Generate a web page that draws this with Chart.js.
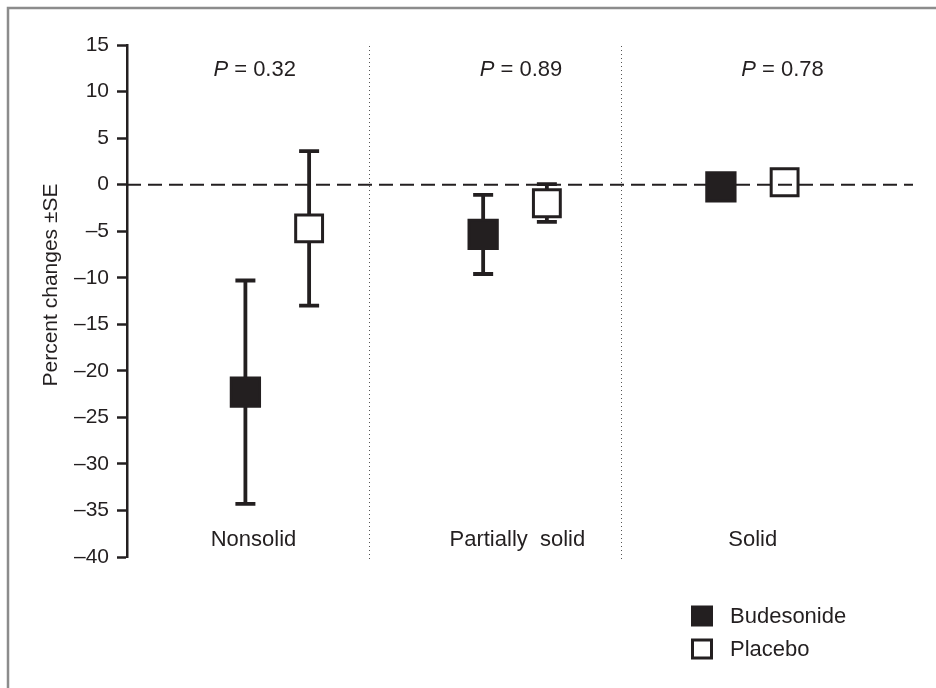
<!DOCTYPE html>
<html>
<head>
<meta charset="utf-8">
<script src="https://cdn.jsdelivr.net/npm/chart.js@4"></script>
<style>
  body { margin: 0; background: #fff; }
  #wrap { width: 936px; height: 688px; }
</style>
</head>
<body>
<div id="wrap"><canvas id="chart" width="936" height="688"></canvas></div>
<script>
// data
const categories = ["Nonsolid", "Partially  solid", "Solid"];
const pValues = ["0.32", "0.89", "0.78"];
const budesonide = [-22.3, -5.35, -0.25];
const budesonideLow = [-34.3, -9.6, -1.0];
const budesonideHigh = [-10.3, -1.1, 0.5];
const placebo = [-4.7, -2.0, 0.25];
const placeboLow = [-13.0, -4.0, -0.6];
const placeboHigh = [3.6, 0.05, 1.0];
const yTicks = [15, 10, 5, 0, -5, -10, -15, -20, -25, -30, -35, -40];

const ink = "#231f20";
const fontFamily = "'Liberation Sans', Arial, Helvetica, sans-serif";
const groupOffset = 0.134;
const dividerX = [0.387, 1.446];
// text placement (x in category units) as laid out in the original figure
const catLabelX = [-0.1, 1.01, 2.0];
const pLabelX = [-0.095, 1.025, 2.125];

function points(values, shift) {
  return values.map((v, i) => ({ x: i + shift, y: v }));
}

const errorBars = [
  { shift: -groupOffset, low: budesonideLow, high: budesonideHigh },
  { shift: groupOffset, low: placeboLow, high: placeboHigh }
];

// frame, dashed zero line, dividers, error bars, texts
const decorPlugin = {
  id: "decor",
  beforeDraw(chart) {
    const ctx = chart.ctx;
    ctx.save();
    ctx.strokeStyle = "#8c8c8c";
    ctx.lineWidth = 2.5;
    ctx.beginPath();
    ctx.moveTo(8, 688);
    ctx.lineTo(8, 8);
    ctx.lineTo(936, 8);
    ctx.stroke();
    ctx.restore();
  },
  beforeDatasetsDraw(chart) {
    const ctx = chart.ctx;
    const xs = chart.scales.x;
    const ys = chart.scales.y;
    const area = chart.chartArea;
    ctx.save();
    // dotted dividers
    ctx.strokeStyle = "#555";
    ctx.lineWidth = 1;
    ctx.setLineDash([1, 3]);
    dividerX.forEach(d => {
      const px = Math.round(xs.getPixelForValue(d)) + 0.5;
      ctx.beginPath();
      ctx.moveTo(px, area.top + 1);
      ctx.lineTo(px, area.bottom + 2);
      ctx.stroke();
    });
    ctx.setLineDash([]);
    // error bars
    ctx.strokeStyle = ink;
    ctx.lineWidth = 3.8;
    errorBars.forEach(eb => {
      eb.low.forEach((lo, i) => {
        const px = xs.getPixelForValue(i + eb.shift);
        const pLo = ys.getPixelForValue(lo);
        const pHi = ys.getPixelForValue(eb.high[i]);
        ctx.beginPath();
        ctx.moveTo(px, pLo);
        ctx.lineTo(px, pHi);
        ctx.moveTo(px - 10, pLo);
        ctx.lineTo(px + 10, pLo);
        ctx.moveTo(px - 10, pHi);
        ctx.lineTo(px + 10, pHi);
        ctx.stroke();
      });
    });
    ctx.restore();
  },
  afterDatasetDraw(chart, args) {
    if (args.index !== 1) return;
    // zero line sits above the open squares but under the filled ones
    const ctx = chart.ctx;
    const ys = chart.scales.y;
    const area = chart.chartArea;
    const py = ys.getPixelForValue(0);
    ctx.save();
    ctx.strokeStyle = ink;
    ctx.lineWidth = 2;
    ctx.setLineDash([14, 7]);
    ctx.beginPath();
    ctx.moveTo(area.left, py);
    ctx.lineTo(area.right, py);
    ctx.stroke();
    ctx.restore();
  },
  afterDraw(chart) {
    const ctx = chart.ctx;
    const xs = chart.scales.x;
    const ys = chart.scales.y;
    ctx.save();
    ctx.fillStyle = ink;
    ctx.font = "22px " + fontFamily;
    ctx.textBaseline = "middle";

    // category names
    ctx.textAlign = "center";
    categories.forEach((c, i) => {
      ctx.fillText(c, xs.getPixelForValue(catLabelX[i]), ys.getPixelForValue(-38.2));
    });

    // P values
    pValues.forEach((p, i) => {
      const rest = " = " + p;
      ctx.font = "italic 22px " + fontFamily;
      const wP = ctx.measureText("P").width;
      ctx.font = "22px " + fontFamily;
      const wR = ctx.measureText(rest).width;
      const x0 = xs.getPixelForValue(pLabelX[i]) - (wP + wR) / 2;
      const y = ys.getPixelForValue(12.3);
      ctx.textAlign = "left";
      ctx.font = "italic 22px " + fontFamily;
      ctx.fillText("P", x0, y);
      ctx.font = "22px " + fontFamily;
      ctx.fillText(rest, x0 + wP, y);
    });

    // y title
    ctx.save();
    ctx.font = "21px " + fontFamily;
    ctx.translate(51, 285);
    ctx.rotate(-Math.PI / 2);
    ctx.textAlign = "center";
    ctx.fillText("Percent changes \u00b1SE", 0, 0);
    ctx.restore();

    // legend
    ctx.font = "22px " + fontFamily;
    const legendRows = [chart.data.datasets[0], chart.data.datasets[1]];
    legendRows.forEach((ds, i) => {
      const cy = 616 + i * 33;
      ctx.fillStyle = ds.backgroundColor;
      ctx.strokeStyle = ink;
      ctx.lineWidth = 3;
      ctx.beginPath();
      ctx.rect(692.5, cy - 9, 19, 18);
      ctx.fill();
      ctx.stroke();
      ctx.fillStyle = ink;
      ctx.textAlign = "left";
      ctx.fillText(ds.label, 730, cy + 1);
    });
    ctx.restore();
  }
};

new Chart(document.getElementById("chart"), {
  type: "scatter",
  data: {
    datasets: [
      {
        label: "Budesonide",
        data: points(budesonide, -groupOffset),
        pointStyle: "rect",
        pointRadius: 20,
        pointHoverRadius: 20,
        backgroundColor: ink,
        borderColor: ink,
        borderWidth: 3,
        order: 0
      },
      {
        label: "Placebo",
        data: points(placebo, groupOffset),
        pointStyle: "rect",
        pointRadius: 19,
        pointHoverRadius: 19,
        backgroundColor: "#ffffff",
        borderColor: ink,
        borderWidth: 3,
        order: 1
      }
    ]
  },
  options: {
    responsive: false,
    animation: false,
    layout: { padding: { left: 0, top: 45, right: 19, bottom: 131 } },
    plugins: {
      legend: { display: false },
      tooltip: { enabled: false }
    },
    scales: {
      x: {
        type: "linear",
        min: -0.632,
        max: 2.674,
        display: false
      },
      y: {
        min: -40,
        max: 15,
        afterBuildTicks(scale) {
          scale.ticks = yTicks.map(v => ({ value: v }));
        },
        afterFit(scale) {
          scale.width = 127;
        },
        ticks: {
          color: ink,
          padding: 8,
          font: { family: fontFamily, size: 21 },
          callback: v => (v < 0 ? "\u2013" + Math.abs(v) : String(v))
        },
        grid: {
          drawOnChartArea: false,
          drawTicks: true,
          tickLength: 10,
          tickWidth: 2.5,
          color: ink
        },
        border: { display: true, color: ink, width: 2.5 }
      }
    }
  },
  plugins: [decorPlugin]
});
</script>
</body>
</html>
